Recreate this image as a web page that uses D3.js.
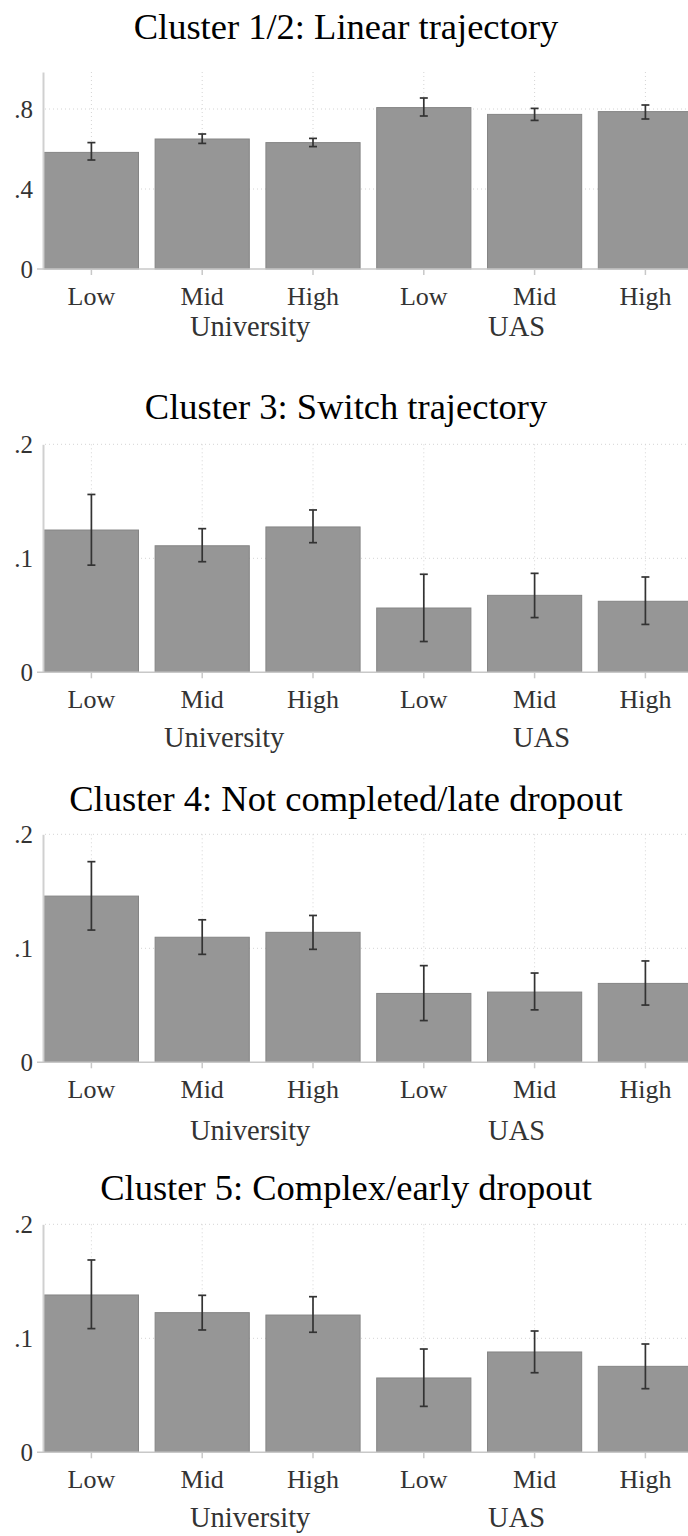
<!DOCTYPE html>
<html>
<head>
<meta charset="utf-8">
<script src="https://cdn.jsdelivr.net/npm/d3@7"></script>
<style>
  body { margin: 0; background: #fff; }
  svg text { font-family: "Liberation Serif", "Times New Roman", Times, "DejaVu Serif", serif !important; }
</style>
</head>
<body>
<div class="chart"></div>
<script>
var svgWidth = 688;
var svgHeight = 1536;

// categories
var groups = ["University", "UAS"];
var levels = ["Low", "Mid", "High"];

// panel titles
var titles = [
  "Cluster 1/2: Linear trajectory",
  "Cluster 3: Switch trajectory",
  "Cluster 4: Not completed/late dropout",
  "Cluster 5: Complex/early dropout"
];

// y axis ticks
var yTicks1 = [0, 0.4, 0.8];
var yTickLabels1 = ["0", ".4", ".8"];
var yTicks2 = [0, 0.1, 0.2];
var yTickLabels2 = ["0", ".1", ".2"];

// shares (University Low/Mid/High, UAS Low/Mid/High) with confidence bounds
var mean1 = [0.583, 0.650, 0.632, 0.807, 0.773, 0.787];
var lower1 = [0.545, 0.628, 0.612, 0.765, 0.743, 0.750];
var upper1 = [0.632, 0.675, 0.653, 0.855, 0.803, 0.820];

var mean3 = [0.1248, 0.1110, 0.1275, 0.0564, 0.0675, 0.0623];
var lower3 = [0.0940, 0.0970, 0.1137, 0.0270, 0.0480, 0.0420];
var upper3 = [0.1560, 0.1260, 0.1424, 0.0860, 0.0868, 0.0836];

var mean4 = [0.1458, 0.1097, 0.1140, 0.0604, 0.0616, 0.0692];
var lower4 = [0.1160, 0.0947, 0.0991, 0.0366, 0.0460, 0.0502];
var upper4 = [0.1760, 0.1250, 0.1288, 0.0848, 0.0783, 0.0889];

var mean5 = [0.1380, 0.1225, 0.1204, 0.0652, 0.0880, 0.0754];
var lower5 = [0.1085, 0.1073, 0.1053, 0.0403, 0.0698, 0.0558];
var upper5 = [0.1687, 0.1377, 0.1365, 0.0906, 0.1064, 0.0950];

// layout of the four stacked panels
var panels = [
  { mean: mean1, lower: lower1, upper: upper1, ticks: yTicks1, tickLabels: yTickLabels1,
    yMax: 0.985, top: 72, zero: 269, titleY: 39, groupDy: 67, groupDx: [48, -18] },
  { mean: mean3, lower: lower3, upper: upper3, ticks: yTicks2, tickLabels: yTickLabels2,
    yMax: 0.2, top: 444.3, zero: 672.3, titleY: 419, groupDy: 74.5, groupDx: [22, 7] },
  { mean: mean4, lower: lower4, upper: upper4, ticks: yTicks2, tickLabels: yTickLabels2,
    yMax: 0.2, top: 834.3, zero: 1062.3, titleY: 811, groupDy: 77.7, groupDx: [48, -18] },
  { mean: mean5, lower: lower5, upper: upper5, ticks: yTicks2, tickLabels: yTickLabels2,
    yMax: 0.2, top: 1224.3, zero: 1452.3, titleY: 1200, groupDy: 74.5, groupDx: [48, -18] }
];

var axisX = 43;
var serif = "'Liberation Serif', 'Times New Roman', Times, 'DejaVu Serif', serif";

var svg = d3.select(".chart")
  .append("svg")
  .attr("width", svgWidth)
  .attr("height", svgHeight);

// one key per bar
var keys = [];
groups.forEach(function(g) {
  levels.forEach(function(l) { keys.push(g + "|" + l); });
});

var xScale = d3.scaleBand()
  .domain(keys)
  .range([36, 36 + 110.8 * 6])
  .paddingInner(0.15)
  .paddingOuter(0.075);

panels.forEach(function(p, pi) {
  var g = svg.append("g");

  var yScale = d3.scaleLinear()
    .domain([0, p.yMax])
    .range([p.zero, p.top]);

  var rows = keys.map(function(k, i) {
    return { key: k, level: k.split("|")[1], mean: p.mean[i], lo: p.lower[i], hi: p.upper[i] };
  });

  // title
  g.append("text")
    .attr("x", 346)
    .attr("y", p.titleY)
    .attr("text-anchor", "middle")
    .attr("font-family", serif)
    .attr("font-size", "36.5px")
    .attr("fill", "#000")
    .text(titles[pi]);

  // horizontal grid
  g.selectAll(".hgrid")
    .data(p.ticks.filter(function(t) { return t > 0; }))
    .enter()
    .append("line")
    .attr("x1", axisX + 2)
    .attr("x2", svgWidth)
    .attr("y1", function(d) { return yScale(d); })
    .attr("y2", function(d) { return yScale(d); })
    .attr("stroke", "#d4d4d4")
    .attr("stroke-width", 1)
    .attr("stroke-dasharray", "1,3");

  // vertical grid at category centres
  g.selectAll(".vgrid")
    .data(rows)
    .enter()
    .append("line")
    .attr("x1", function(d) { return xScale(d.key) + xScale.bandwidth() / 2; })
    .attr("x2", function(d) { return xScale(d.key) + xScale.bandwidth() / 2; })
    .attr("y1", p.top)
    .attr("y2", p.zero)
    .attr("stroke", "#d4d4d4")
    .attr("stroke-width", 1)
    .attr("stroke-dasharray", "1,3");

  // bars
  g.selectAll(".bar")
    .data(rows)
    .enter()
    .append("rect")
    .attr("x", function(d) { return xScale(d.key); })
    .attr("y", function(d) { return yScale(d.mean); })
    .attr("width", xScale.bandwidth())
    .attr("height", function(d) { return yScale(0) - yScale(d.mean); })
    .attr("fill", "#969696")
    .attr("stroke", "#858585")
    .attr("stroke-width", 1);

  // error bars
  var err = g.selectAll(".err")
    .data(rows)
    .enter()
    .append("g")
    .attr("stroke", "#333")
    .attr("stroke-width", 1.7);

  err.append("line")
    .attr("x1", function(d) { return xScale(d.key) + xScale.bandwidth() / 2; })
    .attr("x2", function(d) { return xScale(d.key) + xScale.bandwidth() / 2; })
    .attr("y1", function(d) { return yScale(d.lo); })
    .attr("y2", function(d) { return yScale(d.hi); });

  ["lo", "hi"].forEach(function(end) {
    err.append("line")
      .attr("x1", function(d) { return xScale(d.key) + xScale.bandwidth() / 2 - 4; })
      .attr("x2", function(d) { return xScale(d.key) + xScale.bandwidth() / 2 + 4; })
      .attr("y1", function(d) { return yScale(d[end]); })
      .attr("y2", function(d) { return yScale(d[end]); });
  });

  // y axis
  var leftAxis = d3.axisLeft(yScale)
    .tickValues(p.ticks)
    .tickFormat(function(d, i) { return p.tickLabels[i]; })
    .tickSize(0)
    .tickPadding(10);

  var yAxis = g.append("g")
    .attr("transform", "translate(" + axisX + ",0)")
    .call(leftAxis)
    .attr("font-family", serif);
  yAxis.select(".domain")
    .attr("stroke", "#d0d0d0")
    .attr("stroke-width", 2);
  yAxis.selectAll("text")
    .attr("font-size", "25px")
    .attr("fill", "#333")
    .attr("dy", "0.34em");

  // x axis
  var bottomAxis = d3.axisBottom(xScale)
    .tickFormat(function(k) { return k.split("|")[1]; })
    .tickSizeInner(6)
    .tickSizeOuter(0)
    .tickPadding(10);

  var xAxis = g.append("g")
    .attr("transform", "translate(0," + p.zero + ")")
    .call(bottomAxis)
    .attr("font-family", serif);
  xAxis.select(".domain")
    .attr("d", "M37,0H" + svgWidth)
    .attr("stroke", "#c8c8c8")
    .attr("stroke-width", 1.5);
  xAxis.selectAll(".tick line")
    .attr("stroke", "#c8c8c8")
    .attr("stroke-width", 1.5);
  xAxis.selectAll("text")
    .attr("font-size", "26px")
    .attr("fill", "#333")
    .attr("dy", null)
    .attr("y", 35.5);

  // group labels
  g.selectAll(".group")
    .data(groups)
    .enter()
    .append("text")
    .attr("x", function(d, i) { return xScale(d + "|Mid") + xScale.bandwidth() / 2 + p.groupDx[i]; })
    .attr("y", p.zero + p.groupDy)
    .attr("text-anchor", "middle")
    .attr("font-family", serif)
    .attr("font-size", "28.5px")
    .attr("fill", "#333")
    .text(function(d) { return d; });
});
</script>
</body>
</html>
